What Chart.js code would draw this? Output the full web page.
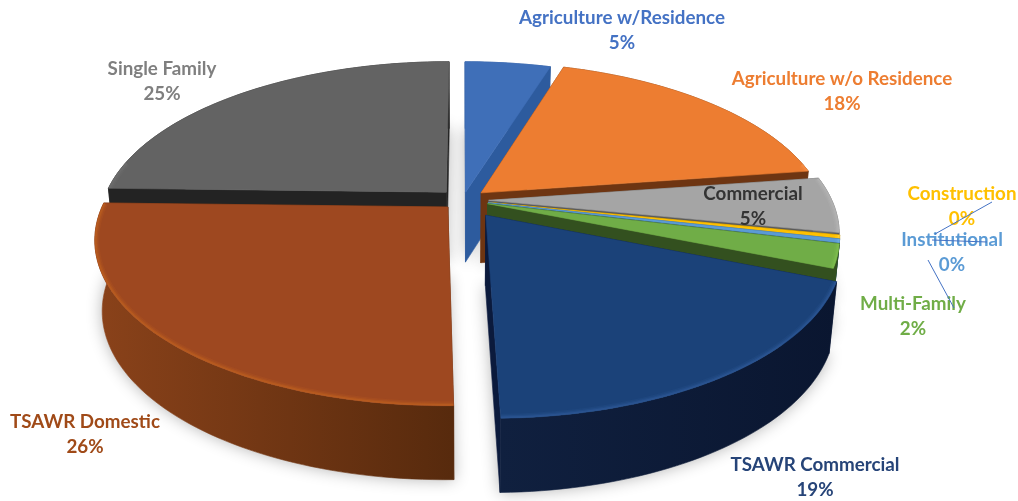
<!DOCTYPE html>
<html>
<head>
<meta charset="utf-8">
<style>
  html, body { margin: 0; padding: 0; background: #fff; }
  canvas { display: block; }
</style>
<script src="https://cdn.jsdelivr.net/npm/chart.js@4/dist/chart.umd.min.js"></script>
</head>
<body>
<canvas id="pie" width="1018" height="501"></canvas>
<script>
'use strict';

// Data
const categories = ['Agriculture w/Residence', 'Agriculture w/o Residence', 'Commercial', 'Construction',
  'Institutional', 'Multi-Family', 'TSAWR Commercial', 'TSAWR Domestic', 'Single Family'];
const shares = [4.78, 17.92, 5.45, 0.35, 0.35, 2.3, 18.5, 25.75, 24.6];
const percentLabels = ['5%', '18%', '5%', '0%', '0%', '2%', '19%', '26%', '25%'];
const explode = [5, 7, 7.5, 7.5, 7.5, 7.5, 11.5, 6.2, 7]; // slice pull-out, % of radius

// Styles
const topColors  = ['#3f6fb8', '#ed7d31', '#a5a5a5', '#ffc000', '#5b9bd5', '#70ad47', '#1b4279', '#9e4820', '#636363'];
const sideColors = ['#2d5b9e', '#6e3512', '#5a5a5a', '#8a6a00', '#2f5f8c', '#33501f', '#0b1a3c', '#5c2b0e', '#232323'];
const wallLeft   = ['#2d5b9e', '#6e3512', '#6a6a6a', '#8a6a00', '#2f5f8c', '#33501f', '#10203f', '#8a421a', '#232323'];
const wallRight  = ['#2d5b9e', '#6e3512', '#5a5a5a', '#8a6a00', '#2f5f8c', '#33501f', '#0a1630', '#572a0d', '#232323'];
const rimColors  = ['#4f80c8', '#f59048', '#b5b5b5', '#ffd040', '#70aee0', '#82c050', '#2f5a98', '#c0601f', '#707070'];
const labelColors = ['#4472c4', '#ed7d31', '#333333', '#ffc000', '#5b9bd5', '#70ad47', '#264478', '#a04a18', '#7f7f7f'];
const labelPos = [[622, 18], [842, 79], [753, 194], [962, 194], [952, 240], [913, 304], [815, 465], [85, 422], [162, 69]];
const leaderLines = [[992, 202, 935, 234], [932, 240, 987, 242], [928, 260, 954, 308]];
const paintOrder = [0, 8, 1, 2, 3, 4, 5, 7, 6]; // back to front

// Camera for the tilted disc
const CX = 463, CY = 200, RX = 343, RY = 158, PERSP = 0.19, DEPTH = 70, CONVERGE = 0.98;
const persp = (v) => 1 / (1 + PERSP * v);
const topPt = (u, v) => [CX + RX * u * persp(v), CY - RY * v * persp(v)];
function lowPt(u, v) {
  const [x, y] = topPt(u, v);
  return [CX + (x - CX) * CONVERGE, y + DEPTH * Math.pow(persp(v), 0.25)];
}

function sliceGeometry(arc) {
  const start = arc.startAngle, end = arc.endAngle, mid = (start + end) / 2;
  const off = (arc.options.offset || 0) / 100;
  const ou = off * Math.cos(mid), ov = -off * Math.sin(mid);
  const steps = Math.max(2, Math.ceil((end - start) / 0.025));
  const rim = [];
  for (let i = 0; i <= steps; i++) {
    const a = start + (end - start) * i / steps;
    rim.push([ou + Math.cos(a), ov - Math.sin(a)]);
  }
  return { apex: [ou, ov], rim };
}

function trace(ctx, pts) {
  ctx.beginPath();
  pts.forEach((p, i) => (i ? ctx.lineTo(p[0], p[1]) : ctx.moveTo(p[0], p[1])));
  ctx.closePath();
}
const mapPts = (list, fn) => list.map((p) => fn(p[0], p[1]));

function drawSlice(ctx, g, i) {
  const topRim = mapPts(g.rim, topPt), lowRim = mapPts(g.rim, lowPt);
  const a0 = topPt(g.apex[0], g.apex[1]), a1 = lowPt(g.apex[0], g.apex[1]);
  const paint = (pts, fill) => {
    trace(ctx, pts);
    ctx.fillStyle = fill; ctx.strokeStyle = fill; ctx.lineWidth = 0.6;
    ctx.fill(); ctx.stroke();
  };

  // radial walls
  paint([a0, topRim[0], lowRim[0], a1], sideColors[i]);
  paint([a0, topRim[topRim.length - 1], lowRim[lowRim.length - 1], a1], sideColors[i]);

  // outer wall
  const xs = topRim.map((p) => p[0]);
  const grad = ctx.createLinearGradient(Math.min(...xs), 0, Math.max(...xs) + 1, 0);
  grad.addColorStop(0, wallLeft[i]);
  grad.addColorStop(1, wallRight[i]);
  paint(topRim.concat(lowRim.slice().reverse()), grad);

  // top face
  const face = [a0].concat(topRim);
  paint(face, topColors[i]);

  // soft bevel along the front rim
  const front = g.rim.filter((p) => p[1] < 0.25);
  if (front.length > 1) {
    ctx.save();
    trace(ctx, face);
    ctx.clip();
    const line = mapPts(front, topPt);
    ctx.strokeStyle = rimColors[i];
    ctx.lineJoin = 'round';
    [[9, 0.18], [6, 0.3], [3.5, 0.55]].forEach(([w, alpha]) => {
      ctx.globalAlpha = alpha;
      ctx.lineWidth = w;
      ctx.beginPath();
      line.forEach((p, k) => (k ? ctx.lineTo(p[0], p[1]) : ctx.moveTo(p[0], p[1])));
      ctx.stroke();
    });
    ctx.restore();
  }
}

const pie3d = {
  id: 'pie3d',
  // The arcs are laid out by Chart.js; they are painted here on a tilted disc
  beforeDatasetsDraw(chart) {
    const ctx = chart.ctx;
    const arcs = chart.getDatasetMeta(0).data;
    const geo = arcs.map(sliceGeometry);

    ctx.save();
    // ground shadow from the undersides
    ctx.shadowColor = 'rgba(0,0,0,0.3)';
    ctx.shadowBlur = 16;
    geo.forEach((g) => {
      trace(ctx, [lowPt(g.apex[0], g.apex[1])].concat(mapPts(g.rim, lowPt)));
      ctx.fillStyle = '#fff';
      ctx.fill();
    });
    ctx.shadowColor = 'transparent';
    ctx.shadowBlur = 0;
    paintOrder.forEach((i) => drawSlice(ctx, geo[i], i));
    ctx.restore();
    return false;
  },
  afterDraw(chart) {
    const ctx = chart.ctx;
    ctx.save();
    ctx.font = 'bold 18.8px Lato, "Open Sans", sans-serif';
    ctx.textAlign = 'center';
    ctx.textBaseline = 'middle';
    categories.forEach((name, i) => {
      ctx.fillStyle = labelColors[i];
      ctx.fillText(name, labelPos[i][0], labelPos[i][1]);
      ctx.fillText(percentLabels[i], labelPos[i][0], labelPos[i][1] + 24.5);
    });
    ctx.strokeStyle = '#4472c4';
    ctx.lineWidth = 1;
    leaderLines.forEach((l) => {
      ctx.beginPath();
      ctx.moveTo(l[0], l[1]);
      ctx.lineTo(l[2], l[3]);
      ctx.stroke();
    });
    ctx.restore();
  },
};

new Chart(document.getElementById('pie'), {
  type: 'pie',
  data: {
    labels: categories,
    datasets: [{ data: shares, backgroundColor: topColors, offset: explode, borderWidth: 0 }],
  },
  options: {
    responsive: false,
    animation: false,
    devicePixelRatio: 1,
    plugins: { legend: { display: false }, tooltip: { enabled: false } },
  },
  plugins: [pie3d],
});
</script>
</body>
</html>
